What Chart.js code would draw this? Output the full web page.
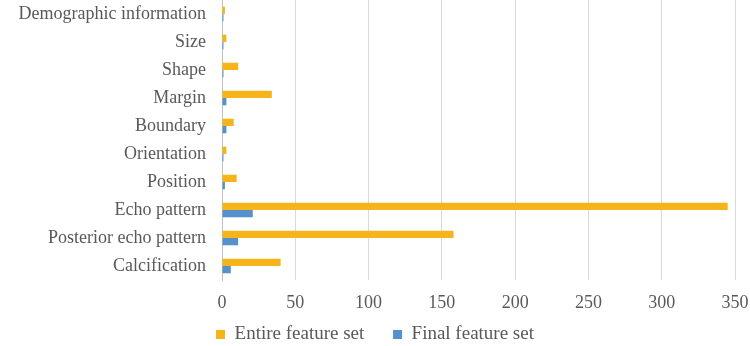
<!DOCTYPE html>
<html>
<head>
<meta charset="utf-8">
<script src="https://cdn.jsdelivr.net/npm/chart.js@4.4.1/dist/chart.umd.min.js"></script>
<style>
html,body{margin:0;padding:0;background:#fff;}
#wrap{width:750px;height:346px;position:relative;}
</style>
</head>
<body>
<div id="wrap"><canvas id="c" width="750" height="346"></canvas></div>
<script>
const categories = ["Demographic information","Size","Shape","Margin","Boundary","Orientation","Position","Echo pattern","Posterior echo pattern","Calcification"];
const entireFeatureSet = [2, 3, 11, 34, 8, 3, 10, 345, 158, 40];
const finalFeatureSet = [1, 1, 1, 3, 3, 1, 2, 21, 11, 6];
const xTicks = [0, 50, 100, 150, 200, 250, 300, 350];
const seriesNames = ["Entire feature set", "Final feature set"];

const FONT = "'Liberation Serif', 'Times New Roman', serif";
const TEXT = "#595959";

new Chart(document.getElementById('c'), {
  type: 'bar',
  data: {
    labels: categories,
    datasets: [
      { label: seriesNames[0], data: entireFeatureSet, backgroundColor: '#F4B41A', borderWidth: 0, categoryPercentage: 0.52, barPercentage: 1.0 },
      { label: seriesNames[1], data: finalFeatureSet, backgroundColor: '#5592CC', borderWidth: 0, categoryPercentage: 0.52, barPercentage: 1.0 }
    ]
  },
  options: {
    indexAxis: 'y',
    responsive: false,
    animation: false,
    devicePixelRatio: 1,
    layout: { padding: { top: 0, left: 0, right: 0, bottom: -8 } },
    plugins: {
      tooltip: { enabled: false },
      legend: {
        position: 'bottom',
        align: 'center',
        labels: {
          boxWidth: 9, boxHeight: 9, padding: 5,
          color: TEXT,
          font: { family: FONT, size: 19, lineHeight: 1 },
          generateLabels: (chart) => {
            const items = Chart.defaults.plugins.legend.labels.generateLabels(chart);
            if (items.length) items[0].text = items[0].text + '     ';
            return items;
          }
        }
      }
    },
    scales: {
      x: {
        min: 0, max: 350,
        afterBuildTicks: (s) => { s.ticks = xTicks.map(v => ({ value: v })); },
        grid: { color: '#D9D9D9', lineWidth: 1, drawTicks: false },
        border: { display: false },
        ticks: { color: TEXT, font: { family: FONT, size: 18 }, padding: 12 },
        afterFit: (s) => { s.height = 40; s.paddingLeft = 0; s.paddingRight = 15; }
      },
      y: {
        grid: { display: false, drawTicks: false },
        border: { display: true, color: '#BFBFBF', width: 1 },
        ticks: { color: TEXT, font: { family: FONT, size: 18 }, padding: 16, autoSkip: false },
        afterFit: (s) => { s.width = 222; s.paddingTop = 0; s.paddingBottom = 0; }
      }
    }
  }
});
</script>
</body>
</html>
